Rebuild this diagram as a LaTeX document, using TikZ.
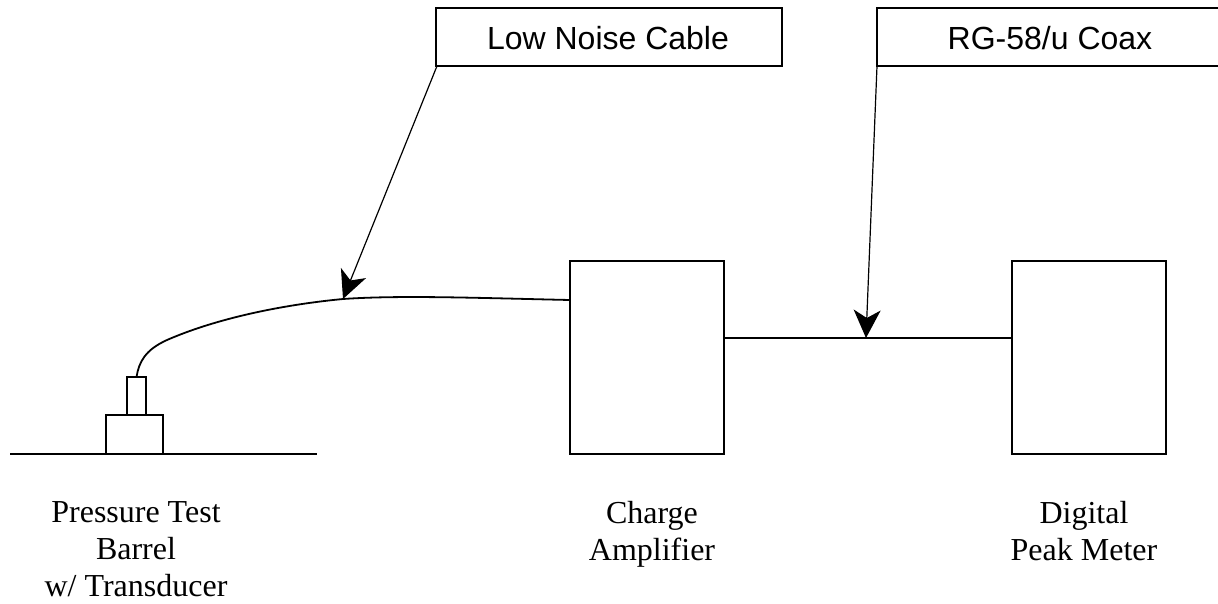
\documentclass[tikz,border=0pt]{standalone}
\usepackage{fontspec}
\setmainfont{Liberation Serif}
\newfontfamily\lblsans{Liberation Sans}
\usetikzlibrary{arrows.meta}
\tikzset{
 box/.style={draw=black,line width=1.6pt,fill=white,inner sep=0pt,outer sep=0pt,anchor=north west},
 callout/.style={font=\lblsans\fontsize{32}{37}\selectfont,anchor=base,inner sep=0pt},
 lbl/.style={font=\fontsize{32}{37}\selectfont,align=center,anchor=north,inner sep=0pt},
 wire/.style={draw=black,line width=1.8pt},
 lead/.style={draw=black,line width=1.2pt,-{Stealth[length=28pt,width=27pt,inset=8pt]}}
}
\begin{document}
\begin{tikzpicture}[x=1pt,y=-1pt]
\useasboundingbox (0,0) rectangle (1218,603);
\node[box,minimum width=346pt,minimum height=58pt] (lnc) at (436,8) {};
\node[callout] (lnct) at (608,49) {Low Noise Cable};
\node[box,minimum width=346pt,minimum height=58pt] (rg) at (877,8) {};
\node[callout] (rgt) at (1050,49) {RG-58/u Coax};
\node[box,minimum width=154pt,minimum height=193pt] (amp) at (570,261) {};
\node[box,minimum width=154pt,minimum height=193pt] (dpm) at (1012,261) {};
\node[box,minimum width=57pt,minimum height=39pt] (base) at (106,415) {};
\node[box,minimum width=19pt,minimum height=38pt] (tr) at (127,377) {};
\coordinate (gl) at (10,454);
\coordinate (gr) at (317,454);
\draw[wire] (gl) -- (gr);
\draw[wire] (tr.north) .. controls (139,362) and (145,350) .. (167,340) .. controls (215,319) and (280,305) .. (343,299) .. controls (400,295) and (480,298) .. (amp.west |- 0,300);
\coordinate (m1) at (343,299);
\coordinate (m2) at (866,338);
\draw[wire] (amp.east |- m2) -- (dpm.west |- m2);
\draw[lead] (437,66) -- (m1);
\draw[lead] (877,66) -- (m2);
\node[lbl] (a) at (136,501) {Pressure Test\\Barrel\\w/ Transducer};
\node[lbl] (b) at (652,501) {Charge\\Amplifier};
\node[lbl] (c) at (1084,501) {Digital\\Peak Meter};
\end{tikzpicture}
\end{document}
